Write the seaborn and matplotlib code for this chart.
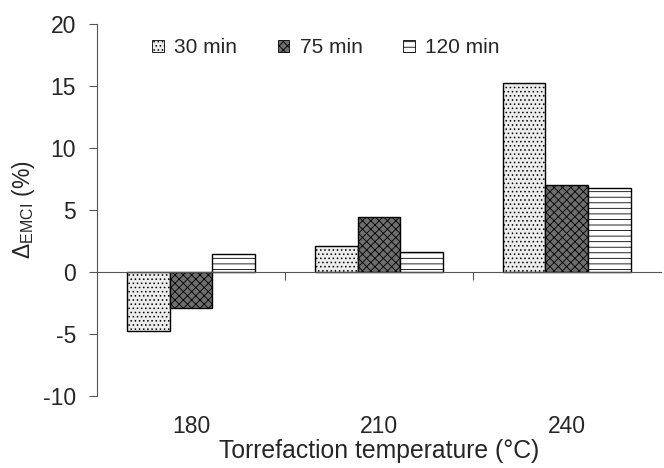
import matplotlib
matplotlib.use("Agg")
import matplotlib.pyplot as plt
import seaborn as sns
import pandas as pd

categories = ["180", "210", "240"]
series = ["30 min", "75 min", "120 min"]
v30 = [-4.8, 2.1, 15.2]
v75 = [-2.9, 4.4, 7.0]
v120 = [1.45, 1.6, 6.8]
yticks = [-10, -5, 0, 5, 10, 15, 20]

sns.set_theme(style="white")
plt.rcParams['font.family'] = ['Liberation Sans', 'DejaVu Sans']
plt.rcParams['mathtext.fontset'] = 'custom'
plt.rcParams['mathtext.rm'] = 'Liberation Sans'
plt.rcParams['mathtext.it'] = 'Liberation Sans'
plt.rcParams['hatch.linewidth'] = 0.6

rows = []
for s, vals in zip(series, [v30, v75, v120]):
    for c, v in zip(categories, vals):
        rows.append({"temp": c, "time": s, "value": v})
df = pd.DataFrame(rows)

faces = ["#ececec", "#6e6e6e", "#ffffff"]
hatches = ["....", "xxxx", "---"]

fig = plt.figure(figsize=(6.64, 4.68), dpi=100)
ax = fig.add_axes([0.146, 0.154, 0.849, 0.795])
sns.barplot(data=df, x="temp", y="value", hue="time", order=categories,
            hue_order=series, palette=faces, width=0.68, edgecolor="black",
            linewidth=1.0, ax=ax, legend=True)
for cont, h in zip(ax.containers, hatches):
    for bar in cont:
        bar.set_hatch(h)
        bar.set_edgecolor("black")

ax.set_xlim(-0.5, 2.5)
ax.set_ylim(-10, 20)
ax.set_yticks(yticks)
ax.set_yticklabels([str(t) for t in yticks], fontsize=16.5)
ax.tick_params(axis='y', direction='out', length=6, width=0.8, color='#555555', left=True, pad=9)

for sp in ['top', 'right']:
    ax.spines[sp].set_visible(False)
ax.spines['left'].set_color('#555555')
ax.spines['left'].set_linewidth(0.8)
ax.spines['bottom'].set_position(('data', 0))
ax.spines['bottom'].set_color('#555555')
ax.spines['bottom'].set_linewidth(0.8)
ax.set_xticks([0, 1, 2])
ax.set_xticklabels([])
ax.tick_params(axis='x', which='major', length=0)
ax.set_xticks([0.5, 1.5], minor=True)
ax.tick_params(axis='x', which='minor', bottom=True, direction='out', length=6, width=0.8, color='#555555')

sec = ax.secondary_xaxis(0)
sec.set_xticks([0, 1, 2])
sec.set_xticklabels(categories, fontsize=16.5)
sec.tick_params(length=0, pad=13.5)
sec.spines['bottom'].set_visible(False)
sec.set_xlabel("Torrefaction temperature (°C)", fontsize=17.8, labelpad=1)

ax.set_xlabel("")
ax.set_ylabel(r"$\Delta_{\mathrm{EMCI}}$ (%)", fontsize=16.5, labelpad=4)

handles, labels = ax.get_legend_handles_labels()
leg = ax.legend(handles, labels, ncol=3, frameon=False, loc='upper left',
                bbox_to_anchor=(0.065, 1.012), fontsize=15, handlelength=0.55,
                handleheight=0.55, handletextpad=0.5, columnspacing=1.95)
for hdl, h in zip(leg.legend_handles, hatches):
    hdl.set_hatch(h)
    hdl.set_linewidth(0.6)

fig.savefig("out.png", dpi=100)
